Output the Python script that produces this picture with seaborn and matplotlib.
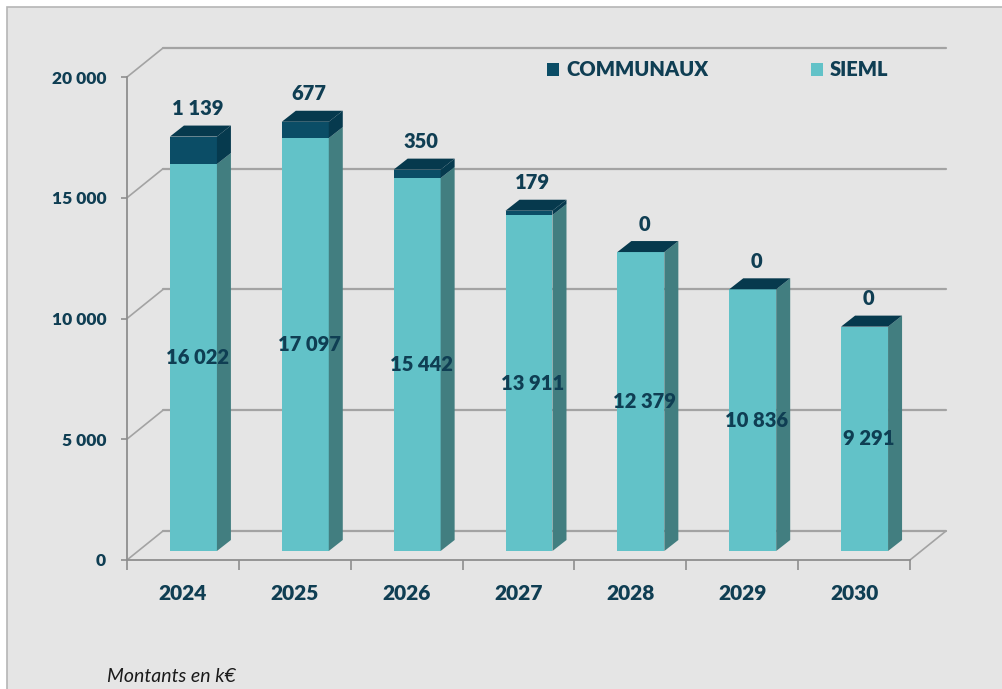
import numpy as np
import pandas as pd
import matplotlib
matplotlib.use("Agg")
import matplotlib.pyplot as plt
from matplotlib.patches import Polygon, Rectangle
from matplotlib.lines import Line2D
from matplotlib.transforms import offset_copy
import seaborn as sns

# Data (k€)
years = ["2024", "2025", "2026", "2027", "2028", "2029", "2030"]
sieml = [16022, 17097, 15442, 13911, 12379, 10836, 9291]
communaux = [1139, 677, 350, 179, 0, 0, 0]
y_ticks = [0, 5000, 10000, 15000, 20000]
y_tick_labels = ["0", "5 000", "10 000", "15 000", "20 000"]

# Colours
TEXT = "#0f3e53"
SIEML_FRONT = "#62c2c8"
SIEML_SIDE = "#427e80"
COMM_FRONT = "#0b4d66"
COMM_SIDE = "#063a4e"
COMM_TOP = "#06394d"
GRID = "#a3a3a3"
AXIS = "#8e8e8e"
PANEL = "#e5e5e5"
WEIGHT = "heavy"

sns.set_theme(style="white")
plt.rcParams["font.family"] = ["Lato", "DejaVu Sans"]

W, H, DPI = 1002, 689, 100
fig = plt.figure(figsize=(W / DPI, H / DPI), dpi=DPI, facecolor="white")

# grey panel behind the chart
fig.patches.append(Rectangle((7 / W, -0.01), 1.0, 1 - 7 / H + 0.01,
                             transform=fig.transFigure, facecolor=PANEL,
                             edgecolor="#b5b5b5", linewidth=1.2, zorder=-5))

# axes = front plane of the 3-D box
left, right, bottom, top = 127, 910, 560, 77
ax = fig.add_axes([left / W, 1 - bottom / H, (right - left) / W, (bottom - top) / H])
ax.patch.set_alpha(0)

df = pd.DataFrame({"year": years, "SIEML": sieml, "COMMUNAUX": communaux})
BAR_W = 0.42
sns.barplot(data=df, x="year", y="SIEML", color=SIEML_FRONT, width=BAR_W,
            saturation=1, ax=ax, linewidth=0)
sns.barplot(data=df, x="year", y="COMMUNAUX", color=COMM_FRONT, width=BAR_W,
            saturation=1, ax=ax, linewidth=0, bottom=np.array(sieml))

ax.set_xlim(-0.5, 6.5)
ax.set_ylim(0, 20000)


def px_to_data(dx_px, dy_px):
    """Convert a pixel displacement to data units on this axes."""
    p0 = ax.transData.transform((0, 0))
    d = ax.transData.inverted().transform(p0 + np.array([dx_px, dy_px]))
    return d[0], d[1]


# depth of the whole box and of each bar (pixels)
BOX_DX, BOX_DY = 36, 29
BAR_OFF_X, BAR_OFF_Y = 10.5, 9
BAR_DX, BAR_DY = 14, 11
box_dx, box_dy = px_to_data(BOX_DX, BOX_DY)
bar_dx, bar_dy = px_to_data(BAR_DX, BAR_DY)

# back wall gridlines, left-wall diagonals and floor
x0, x1 = -0.5, 6.5
for v in y_ticks:
    ax.add_line(Line2D([x0 + box_dx, x1 + box_dx], [v + box_dy, v + box_dy],
                       color=GRID, lw=1.6, clip_on=False, zorder=0.5))
    ax.add_line(Line2D([x0, x0 + box_dx], [v, v + box_dy],
                       color=GRID, lw=1.2, clip_on=False, zorder=0.5))
ax.add_line(Line2D([x1, x1 + box_dx], [0, box_dy], color=GRID, lw=1.2,
                   clip_on=False, zorder=0.5))

# shift the bars back into the box and give them side and top faces
shift = offset_copy(ax.transData, fig=fig, x=BAR_OFF_X, y=BAR_OFF_Y, units="dots")
n = len(years)
sieml_bars = ax.patches[:n]
comm_bars = ax.patches[n:2 * n]
for bars, vals, bases, side_col in [(sieml_bars, sieml, [0] * n, SIEML_SIDE),
                                    (comm_bars, communaux, sieml, COMM_SIDE)]:
    for p, v, b in zip(bars, vals, bases):
        p.set_transform(shift)
        p.set_clip_on(False)
        p.set_zorder(2)
        xr = p.get_x() + p.get_width()
        side = Polygon([(xr, b), (xr + bar_dx, b + bar_dy),
                        (xr + bar_dx, b + v + bar_dy), (xr, b + v)],
                       closed=True, facecolor=side_col, edgecolor="none",
                       transform=shift, clip_on=False, zorder=2)
        ax.add_patch(side)

for p, s, c in zip(comm_bars, sieml, communaux):
    xl = p.get_x()
    xr = xl + p.get_width()
    t = s + c
    topface = Polygon([(xl, t), (xr, t), (xr + bar_dx, t + bar_dy),
                       (xl + bar_dx, t + bar_dy)], closed=True,
                      facecolor=COMM_TOP, edgecolor="none",
                      transform=shift, clip_on=False, zorder=2.1)
    ax.add_patch(topface)

# value labels
label_tr = offset_copy(ax.transData, fig=fig, x=BAR_OFF_X + 4, y=BAR_OFF_Y, units="dots")
for p, s, c in zip(sieml_bars, sieml, communaux):
    xc = p.get_x() + p.get_width() / 2
    ax.text(xc, s / 2, f"{s:,}".replace(",", " "), transform=label_tr,
            ha="center", va="center", fontsize=14.5, fontweight=WEIGHT,
            color=TEXT, zorder=5)
    ax.annotate(f"{c:,}".replace(",", " "), (xc, s + c), xycoords=label_tr,
                xytext=(0, 28), textcoords="offset pixels", ha="center",
                va="center", fontsize=14.5, fontweight=WEIGHT, color=TEXT,
                zorder=5, annotation_clip=False)

# axes styling
for side in ["top", "right"]:
    ax.spines[side].set_visible(False)
for side in ["left", "bottom"]:
    ax.spines[side].set_color(AXIS)
    ax.spines[side].set_linewidth(1.3)
ax.set_xlabel("")
ax.set_ylabel("")
ax.set_yticks(y_ticks)
ax.set_yticklabels(y_tick_labels)
ax.set_xticks(range(n))
ax.set_xticklabels(years)
ax.set_xticks(np.arange(-0.5, n, 1.0), minor=True)
ax.tick_params(axis="x", which="major", length=0, pad=17, labelsize=15,
               labelcolor=TEXT)
ax.tick_params(axis="x", which="minor", length=7, width=1.2, color=AXIS,
               direction="out", bottom=True)
ax.tick_params(axis="y", length=4, width=1.2, color=AXIS, left=True, pad=11,
               labelsize=12.5, labelcolor=TEXT)
for lab in ax.get_xticklabels() + ax.get_yticklabels():
    lab.set_fontweight(WEIGHT)

# legend
handles = [Rectangle((0, 0), 1, 1, facecolor=COMM_FRONT, edgecolor="none"),
           Rectangle((0, 0), 1, 1, facecolor=SIEML_FRONT, edgecolor="none")]
leg = fig.legend(handles, ["COMMUNAUX", "SIEML"], ncol=2, frameon=False,
                 loc="center left", bbox_to_anchor=(547 / W, 1 - 70 / H),
                 prop={"weight": WEIGHT, "size": 14.5}, labelcolor=TEXT,
                 handlelength=0.6, handleheight=0.6, handletextpad=0.35,
                 columnspacing=5.1, borderpad=0, borderaxespad=0)

fig.text(107 / W, 1 - 676 / H, "Montants en k€", fontsize=14, style="italic",
         color="#1a1a1a", ha="left", va="center")

fig.savefig("out.png", dpi=DPI, facecolor="white")
